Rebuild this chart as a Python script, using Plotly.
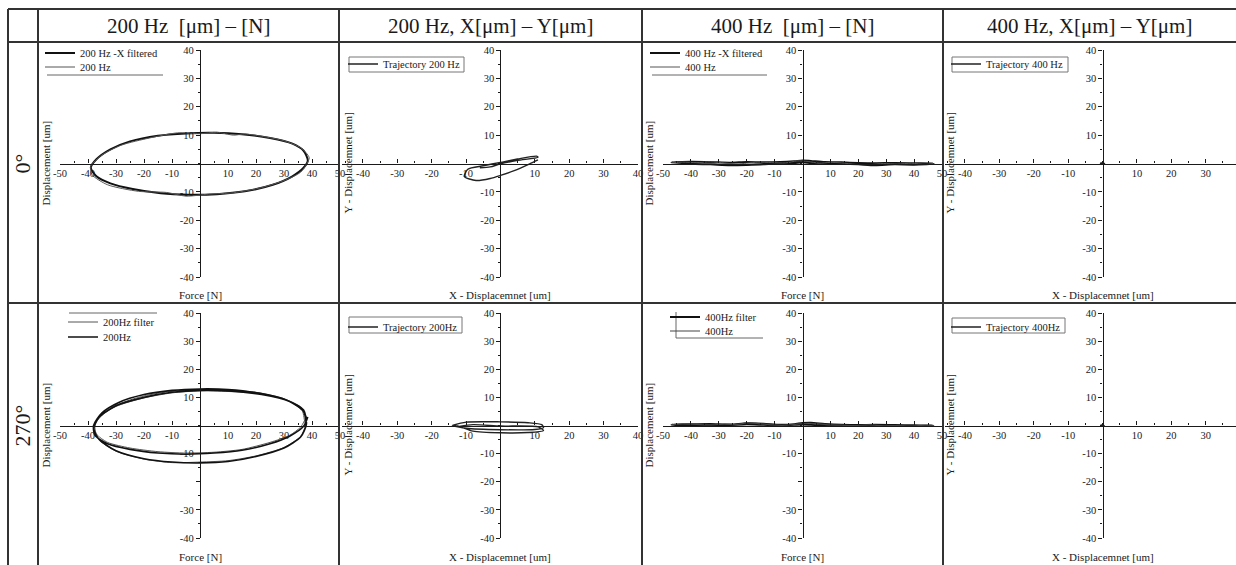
import plotly.graph_objects as go

# ---------------- data ----------------
COL_TITLES = ["200 Hz\u00a0 [μm] – [N]", "200 Hz, X[μm] – Y[μm]",
              "400 Hz\u00a0 [μm] – [N]", "400 Hz, X[μm] – Y[μm]"]
ROW_TITLES = ["0°", "270°"]
X_TITLES = ["Force [N]", "X - Displacemnet [um]", "Force [N]", "X - Displacemnet [um]"]
Y_TITLES = ["Displacement [um]", "Y - Displacemnet [um]", "Displacement [um]", "Y - Displacemnet [um]"]

FORCE_TICKS = [-50, -40, -30, -20, -10, 10, 20, 30, 40, 50]
POS_TICKS = [-40, -30, -20, -10, 10, 20, 30, 40]
DISP_TICKS = [-40, -30, -20, -10, 10, 20, 30, 40]
DISP_LABELS = ["-40", "-30", "-20", "-10", "10", "20", "30", "40"]
DISP_LABELS_270_FORCE = ["-40", "-30", "", "-10", "10", "20", "30", "40"]

# 0°, 200 Hz, force - displacement
F200_0_FILT_F = [38.5, 37, 33, 25, 15, 5, -5, -15, -25, -32, -37, -39, -37, -32, -24, -14, -4, 6, 16, 26, 33, 37, 38.5]
F200_0_FILT_D = [1, 4.5, 7, 9, 10.3, 10.8, 10.6, 9.8, 7.8, 5, 1.5, -1.5, -4.5, -7, -9, -10.5, -11, -10.8, -9.8, -7.5, -4.5, -1.5, 1]
F200_0_RAW_F = [39, 36, 30, 22, 16, 12, 6, 0, -8, -18, -28, -35, -39, -38.5, -33, -22, -12, -5, 3, 12, 22, 30, 36, 39]
F200_0_RAW_D = [2, 5.5, 8, 9.6, 10.4, 10, 11, 10.5, 10.8, 9, 6.5, 3, -1, -4, -7.5, -9.8, -10.2, -11.5, -10.8, -10.3, -8.5, -6, -3, 2]

# 0°, 200 Hz, trajectory X - Y
T200_0_X = [-6, -3, 0, 5, 10.9, 10.5, 5, 0, -5, -9.5, -10.5, -7.1, -3, 0, 4, 8.5, 10.9]
T200_0_Y = [-1.5, -1.2, -0.1, 1.1, 2.2, 2.6, 1.6, 0.4, -0.8, -2.0, -4.6, -6.0, -5.3, -4.2, -2.5, -0.1, 1.3]

# 0°, 400 Hz, force - displacement
F400_0_FILT_F = [-47, -40, -33, -26, -20, -14, -8, -3, 0, 3, 8, 14, 20, 26, 33, 40, 47,
                 40, 33, 26, 20, 14, 8, 3, 0, -3, -8, -14, -20, -26, -33, -40, -47]
F400_0_FILT_D = [0.4, 0.6, 0.5, 0.3, 0.5, 0.4, 0.5, 0.8, 1.1, 0.9, 0.5, 0.4, 0.2, 0.1, 0.2, 0.1, 0.0,
                 -0.4, -0.3, -0.6, -0.3, -0.1, 0.0, 0.2, 0.4, 0.2, 0.1, -0.3, -0.5, -0.6, -0.3, -0.1, 0.4]
F400_0_RAW_F = [-47, -43, -38, -33, -28, -24, -20, -16, -11, -6, -2, 2, 6, 10, 14, 19, 24, 29, 34, 39, 44, 47]
F400_0_RAW_D = [0.2, 0.5, 0.3, 0.6, 0.2, -0.2, 0.1, 0.5, 0.3, 0.2, 0.9, 0.7, 0.1, 0.4, 0.2, -0.3, -0.4, 0.0, -0.2, 0.1, -0.3, 0.0]

# 0°, 400 Hz, trajectory X - Y (stays at the origin)
T400_0_X = [-0.6, 0.0, 0.6, 0.0, -0.6]
T400_0_Y = [0.1, 0.25, -0.1, -0.25, 0.1]

# 270°, 200 Hz, force - displacement (two cycles each)
F200_270_FILT_F = [38, 36, 30, 20, 10, 0, -10, -20, -28, -34, -37.5, -37, -33, -25, -15, -5, 5, 15, 25, 32, 36, 38,
                   37.5, 36.5, 31.5, 21.5, 10, 0, -10, -20, -30, -36, -37.8, -35.8, -29.8, -19.8, -9.8, 0, 10, 20, 30, 36, 38]
F200_270_FILT_D = [3, 6.5, 9.5, 11.8, 12.5, 12.8, 12.2, 10.5, 8, 4.5, 0.5, -3, -6, -8, -9.3, -9.8, -9.5, -8.5, -6, -3.5, -0.5, 3,
                   1, 5.3, 8.8, 11.3, 12.1, 12.3, 11.6, 9.8, 6.8, 2.8, -1.3, -5.3, -9.2, -12, -13.2, -13, -12.5, -10.8, -7.8, -3.8, 0.8]
F200_270_RAW_F = [38, 37, 32, 22, 10, 0, -10, -20, -30, -36, -38, -36, -30, -20, -10, 0, 10, 20, 30, 36, 38,
                  37, 31, 21, 10, 0, -10, -20, -29, -35, -38, -37.5, -33, -25, -15, -5, 5, 15, 25, 32, 37, 38.5]
F200_270_RAW_D = [0.5, 5, 8.5, 11, 12.3, 12.5, 11.8, 10, 7, 3, -1, -5, -9, -11.8, -13, -13.3, -12.8, -11, -8, -4, 0.5,
                  5.5, 9, 11.5, 12.8, 13, 12.5, 11, 8.2, 4.5, 0, -3.5, -6.5, -8.5, -9.8, -10.2, -9.8, -8.8, -6.5, -3.8, -0.3, 3]

# 270°, 200 Hz, trajectory X - Y
T200_270_X = [-14, -10, 0, 8, 12, 12.5, 10, 0, -10, -14, -12, -8, 0, 8, 12.5, 11, 0, -8, -12]
T200_270_Y = [0, 1.2, 1.3, 1.0, 0.3, -0.8, -1.4, -1.5, -1.0, 0, -0.3, -2.0, -2.6, -2.5, -1.8, -0.5, -0.2, 0.3, -0.3]

# 270°, 400 Hz, force - displacement
F400_270_FILT_F = [-47, -40, -33, -26, -20, -14, -8, -3, 0, 3, 8, 14, 20, 26, 33, 40, 47,
                   40, 33, 26, 20, 14, 8, 3, 0, -3, -8, -14, -20, -26, -33, -40, -47]
F400_270_FILT_D = [0.3, 0.5, 0.6, 0.4, 0.8, 0.7, 0.3, 0.5, 0.9, 1.0, 0.6, 0.3, 0.2, 0.3, 0.2, 0.1, 0.0,
                   -0.2, -0.1, -0.2, 0.0, -0.1, 0.0, 0.2, 0.3, 0.2, 0.0, 0.2, 0.4, 0.1, 0.0, -0.1, 0.3]
F400_270_RAW_F = [-47, -43, -38, -33, -28, -24, -20, -16, -11, -6, -2, 2, 6, 10, 14, 19, 24, 29, 34, 39, 44, 47]
F400_270_RAW_D = [0.3, 0.6, 0.4, 0.2, 0.5, 0.3, 0.9, 0.7, 0.2, 0.1, 0.5, 0.8, 0.6, 0.2, 0.1, 0.0, 0.2, -0.1, 0.0, -0.2, 0.1, 0.0]

# 270°, 400 Hz, trajectory X - Y (stays at the origin)
T400_270_X = [-0.5, 0.0, 0.5, 0.0, -0.5]
T400_270_Y = [0.1, 0.2, -0.1, -0.2, 0.1]

# ---------------- layout geometry ----------------
W, H = 1236, 565
FONT = "Liberation Serif"
INK = "#1a1a1a"
GRID = "#333333"


def px(x):
    return x / W


def py(y):
    return 1 - y / H


COLS = [
    dict(x0=60, x1=340, rng=[-50, 50], ticks=FORCE_TICKS),
    dict(x0=342, x1=638, rng=[-46.1, 40], ticks=POS_TICKS),
    dict(x0=663, x1=942, rng=[-50, 50], ticks=FORCE_TICKS),
    dict(x0=945, x1=1236, rng=[-45.8, 38.8], ticks=POS_TICKS),
]
ROWS = [dict(y0=50, y1=277), dict(y0=313, y1=538)]


def zero_x(c):
    col = COLS[c]
    return col["x0"] + (0 - col["rng"][0]) / (col["rng"][1] - col["rng"][0]) * (col["x1"] - col["x0"])


def zero_y(r):
    return (ROWS[r]["y0"] + ROWS[r]["y1"]) / 2


# traces per panel: (row, col, name, x, y, color, width, legend sample start px, legend centre y px)
SERIES = [
    (0, 0, "200 Hz -X filtered", F200_0_FILT_F, F200_0_FILT_D, "#111111", 2.0, 45, 53),
    (0, 0, "200 Hz", F200_0_RAW_F, F200_0_RAW_D, "#555555", 1.0, 45, 67),
    (0, 1, "Trajectory 200 Hz", T200_0_X, T200_0_Y, "#222222", 1.4, 348, 64),
    (0, 2, "400 Hz -X filtered", F400_0_FILT_F, F400_0_FILT_D, "#111111", 2.0, 650, 53),
    (0, 2, "400 Hz", F400_0_RAW_F, F400_0_RAW_D, "#555555", 1.0, 650, 67),
    (0, 3, "Trajectory 400 Hz", T400_0_X, T400_0_Y, "#222222", 1.4, 951, 64),
    (1, 0, "200Hz filter", F200_270_FILT_F, F200_270_FILT_D, "#555555", 1.0, 68, 322),
    (1, 0, "200Hz", F200_270_RAW_F, F200_270_RAW_D, "#111111", 1.6, 68, 337),
    (1, 1, "Trajectory 200Hz", T200_270_X, T200_270_Y, "#222222", 1.4, 348, 327),
    (1, 2, "400Hz filter", F400_270_FILT_F, F400_270_FILT_D, "#111111", 1.8, 670, 317),
    (1, 2, "400Hz", F400_270_RAW_F, F400_270_RAW_D, "#444444", 1.2, 670, 331),
    (1, 3, "Trajectory 400Hz", T400_270_X, T400_270_Y, "#222222", 1.4, 951, 327),
]

fig = go.Figure()
layout = dict(
    width=W, height=H, margin=dict(l=0, r=0, t=0, b=0, pad=0, autoexpand=False),
    paper_bgcolor="white", plot_bgcolor="rgba(0,0,0,0)",
    showlegend=True, hovermode=False,
    font=dict(family=FONT, color=INK),
)

tickfont = dict(family=FONT, size=10.5, color=INK)
for r in range(2):
    for c in range(4):
        k = r * 4 + c + 1
        sfx = "" if k == 1 else str(k)
        col, row = COLS[c], ROWS[r]
        layout["xaxis" + sfx] = dict(
            domain=[px(col["x0"]), px(col["x1"])], range=col["rng"], anchor="free",
            position=py(zero_y(r)), side="bottom", showline=True, linecolor=INK, linewidth=1.3,
            ticks="inside", ticklen=4, tickwidth=1.2, tickcolor=INK,
            tickmode="array", tickvals=col["ticks"], ticktext=[str(v) for v in col["ticks"]],
            minor=dict(dtick=5, tick0=0, ticks="inside", ticklen=2, tickcolor=INK, tickwidth=1),
            showgrid=False, zeroline=False, tickfont=tickfont, fixedrange=True, automargin=False,
        )
        labels = DISP_LABELS_270_FORCE if (r == 1 and c in (0, 2)) else DISP_LABELS
        layout["yaxis" + sfx] = dict(
            domain=[py(row["y1"]), py(row["y0"])], range=[-40, 40], anchor="free",
            position=px(zero_x(c)), side="left", showline=True, linecolor=INK, linewidth=1.3,
            ticks="outside", ticklen=4, tickwidth=1.2, tickcolor=INK,
            tickmode="array", tickvals=DISP_TICKS, ticktext=labels,
            minor=dict(dtick=5, tick0=0, ticks="outside", ticklen=2, tickcolor=INK, tickwidth=1),
            showgrid=False, zeroline=False, tickfont=tickfont, fixedrange=True, automargin=False,
        )

for i, (r, c, name, xs, ys, color, width, lx, ly) in enumerate(SERIES):
    k = r * 4 + c + 1
    sfx = "" if k == 1 else str(k)
    lg = "legend" if i == 0 else "legend%d" % (i + 1)
    fig.add_trace(go.Scatter(
        x=xs, y=ys, mode="lines", name=name,
        line=dict(color=color, width=width, shape="spline", smoothing=0.7),
        xaxis="x" + sfx, yaxis="y" + sfx, legend=lg,
    ))
    layout[lg] = dict(
        x=px(lx - 5), y=py(ly), xanchor="left", yanchor="middle",
        font=dict(family=FONT, size=10.5, color=INK), bgcolor="rgba(0,0,0,0)",
        borderwidth=0, itemwidth=30, tracegroupgap=0,
    )

# ---------------- table frame, legend frames ----------------
shapes = []


def hline(x0, x1, y, w=2, color=GRID):
    shapes.append(dict(type="line", xref="paper", yref="paper", x0=px(x0), x1=px(x1),
                       y0=py(y), y1=py(y), line=dict(color=color, width=w)))


def vline(x, y0, y1, w=2, color=GRID):
    shapes.append(dict(type="line", xref="paper", yref="paper", x0=px(x), x1=px(x),
                       y0=py(y0), y1=py(y1), line=dict(color=color, width=w)))


def rect(x0, y0, x1, y1, color="#777777"):
    shapes.append(dict(type="rect", xref="paper", yref="paper", x0=px(x0), x1=px(x1),
                       y0=py(y1), y1=py(y0), line=dict(color=color, width=1)))


for y in (9, 42, 303):
    hline(8, 1236, y)
for x in (8, 38, 339, 642, 943):
    vline(x, 9, 565)

LEG = "#666666"
hline(47, 163, 75, 1, LEG)
rect(349, 57, 464, 72)
hline(652, 767, 75, 1, LEG)
rect(952, 57, 1068, 72)
hline(69, 157, 313, 1, LEG)
rect(349, 317, 462, 333)
vline(676, 312, 338, 1, LEG)
hline(676, 763, 338, 1, LEG)
rect(952, 318, 1065, 333)
layout["shapes"] = shapes

# ---------------- text ----------------
ann = []
col_centres = [(38 + 339) / 2, (339 + 642) / 2, (642 + 943) / 2, (943 + 1236) / 2]
for c, t in enumerate(COL_TITLES):
    ann.append(dict(text=t, x=px(col_centres[c]), y=py(26), xref="paper", yref="paper",
                    showarrow=False, xanchor="center", yanchor="middle",
                    font=dict(family=FONT, size=21, color=INK)))
for r, t in enumerate(ROW_TITLES):
    ann.append(dict(text=t, x=px(22), y=py(zero_y(r)), xref="paper", yref="paper",
                    showarrow=False, textangle=-90, xanchor="center", yanchor="middle",
                    font=dict(family=FONT, size=22, color=INK)))
XT_Y = [295, 557]
YT_X = [45, 347, 648, 949]
for r in range(2):
    for c in range(4):
        ann.append(dict(text=X_TITLES[c], x=px(zero_x(c)), y=py(XT_Y[r]), xref="paper", yref="paper",
                        showarrow=False, xanchor="center", yanchor="middle",
                        font=dict(family=FONT, size=11, color=INK)))
        ann.append(dict(text=Y_TITLES[c], x=px(YT_X[c]), y=py(zero_y(r)), xref="paper", yref="paper",
                        showarrow=False, textangle=-90, xanchor="center", yanchor="middle",
                        font=dict(family=FONT, size=11, color=INK)))
layout["annotations"] = ann

fig.update_layout(**layout)
fig.write_html(
    "out.html",
    config=dict(displayModeBar=False, responsive=False),
    post_script="document.documentElement.style.margin='0';document.body.style.margin='0';"
                "document.body.style.padding='0';document.body.style.overflow='hidden';",
)
